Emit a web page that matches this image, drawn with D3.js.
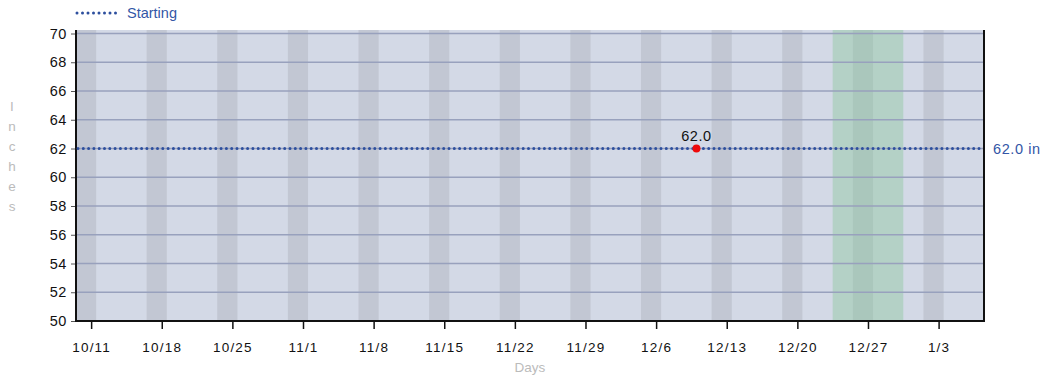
<!DOCTYPE html>
<html><head><meta charset="utf-8">
<script src="https://cdn.jsdelivr.net/npm/d3@7"></script>
<style>body{margin:0;background:#fff;font-family:"Liberation Sans",Arial,sans-serif}</style>
</head><body><svg id="c" width="1043" height="379"></svg>
<script>
const tickLabels = ["10/11","10/18","10/25","11/1","11/8","11/15","11/22","11/29","12/6","12/13","12/20","12/27","1/3"];
const tickDates = ["2020-10-11","2020-10-18","2020-10-25","2020-11-01","2020-11-08","2020-11-15","2020-11-22","2020-11-29","2020-12-06","2020-12-13","2020-12-20","2020-12-27","2021-01-03"];
const weekendStarts = ["2020-10-10","2020-10-17","2020-10-24","2020-10-31","2020-11-07","2020-11-14","2020-11-21","2020-11-28","2020-12-05","2020-12-12","2020-12-19","2020-12-26","2021-01-02"];
const holidayRange = ["2020-12-24","2020-12-30"];
const yTicks = [50,52,54,56,58,60,62,64,66,68,70];
const startingValue = 62.0;
const pointDates = ["2020-12-10"];
const pointValues = [62.0];

const parse = s => { const [y,m,d] = s.split("-").map(Number); return new Date(y, m-1, d); };
const addH = (dt,h) => new Date(dt.getTime() + h*3600e3);

const svg = d3.select("#c");
const L=76, R=984, T=30, B=321;
const x = d3.scaleTime().domain([addH(parse("2020-10-10"),-12), addH(parse("2021-01-07"),12)]).range([L,R]);
const y = d3.scaleLinear().domain([50,70]).range([B,33.5]);

svg.append("rect").attr("x",L).attr("y",T).attr("width",R-L).attr("height",B-T).attr("fill","#d3d9e6");
svg.selectAll("rect.we").data(weekendStarts).enter().append("rect")
  .attr("x",d=>x(addH(parse(d),-12))).attr("y",T)
  .attr("width",d=>Math.min(R,x(addH(parse(d),36)))-x(addH(parse(d),-12))).attr("height",B-T)
  .attr("fill","#c2c7d3");
svg.append("rect").attr("x",x(addH(parse(holidayRange[0]),-12))).attr("y",T)
  .attr("width",x(addH(parse(holidayRange[1]),12))-x(addH(parse(holidayRange[0]),-12))).attr("height",B-T)
  .attr("fill","#8fc79f").attr("opacity",0.45);

svg.selectAll("line.g").data(yTicks.slice(1)).enter().append("line")
  .attr("x1",L).attr("x2",R).attr("y1",d=>y(d)).attr("y2",d=>y(d))
  .attr("stroke","#98a1bd").attr("stroke-width",1.6);

// axes
const ya = svg.append("g").attr("transform",`translate(${L},0)`)
  .call(d3.axisLeft(y).tickValues(yTicks).tickSize(5).tickPadding(4).tickFormat(d3.format("d")));
ya.select(".domain").remove();
ya.selectAll("text").attr("font-size",14.5).attr("fill","#111").attr("font-family","Liberation Sans, Arial, sans-serif").attr("letter-spacing",0.6);
ya.selectAll("line").attr("stroke","#555");

const xa = svg.append("g").attr("transform",`translate(0,${B})`)
  .call(d3.axisBottom(x).tickValues(tickDates.map(parse)).tickSize(8).tickPadding(13)
    .tickFormat((d,i)=>tickLabels[i]));
xa.select(".domain").remove();
xa.selectAll("text").attr("font-size",13.5).attr("fill","#111").attr("font-family","Liberation Sans, Arial, sans-serif").attr("letter-spacing",1.2);
xa.selectAll("line").attr("stroke","#111").attr("stroke-width",1.5);

svg.append("line").attr("x1",L).attr("x2",L).attr("y1",T).attr("y2",B+1).attr("stroke","#111").attr("stroke-width",2);
svg.append("line").attr("x1",L).attr("x2",R+1).attr("y1",B).attr("y2",B).attr("stroke","#111").attr("stroke-width",2);
svg.append("line").attr("x1",R).attr("x2",R).attr("y1",T).attr("y2",B).attr("stroke","#111").attr("stroke-width",2);

// starting line
svg.append("line").attr("x1",L+2).attr("x2",R).attr("y1",y(startingValue)).attr("y2",y(startingValue))
  .attr("stroke","#2d4f9e").attr("stroke-width",3).attr("stroke-linecap","round").attr("stroke-dasharray","0,5.3");
svg.append("text").attr("x",R+9).attr("y",y(startingValue)).attr("dy","0.35em")
  .attr("font-size",14.5).attr("fill","#3356a6").attr("letter-spacing",0.6).text(d3.format(".1f")(startingValue)+" in");

// points
pointDates.forEach((d,i)=>{
  svg.append("circle").attr("cx",x(parse(d))).attr("cy",y(pointValues[i])).attr("r",4).attr("fill","#ee0a0a");
  svg.append("text").attr("x",x(parse(d))).attr("y",y(pointValues[i])-8).attr("text-anchor","middle")
    .attr("font-size",14.5).attr("fill","#111").attr("letter-spacing",0.6).text(d3.format(".1f")(pointValues[i]));
});

// legend
svg.append("line").attr("x1",77).attr("x2",117).attr("y1",13).attr("y2",13)
  .attr("stroke","#2d4f9e").attr("stroke-width",3).attr("stroke-linecap","round").attr("stroke-dasharray","0,5.5");
svg.append("text").attr("x",127).attr("y",13).attr("dy","0.35em").attr("font-size",14.5).attr("fill","#3356a6").text("Starting");

// axis titles
svg.append("text").attr("x",530).attr("y",367).attr("dy","0.35em").attr("text-anchor","middle")
  .attr("font-size",13.5).attr("fill","#bbb").text("Days");
"Inches".split("").forEach((ch,i)=>{
  svg.append("text").attr("x",12).attr("y",106+i*20).attr("dy","0.35em").attr("text-anchor","middle")
    .attr("font-size",13.5).attr("fill","#bbb").text(ch);
});
</script></body></html>
